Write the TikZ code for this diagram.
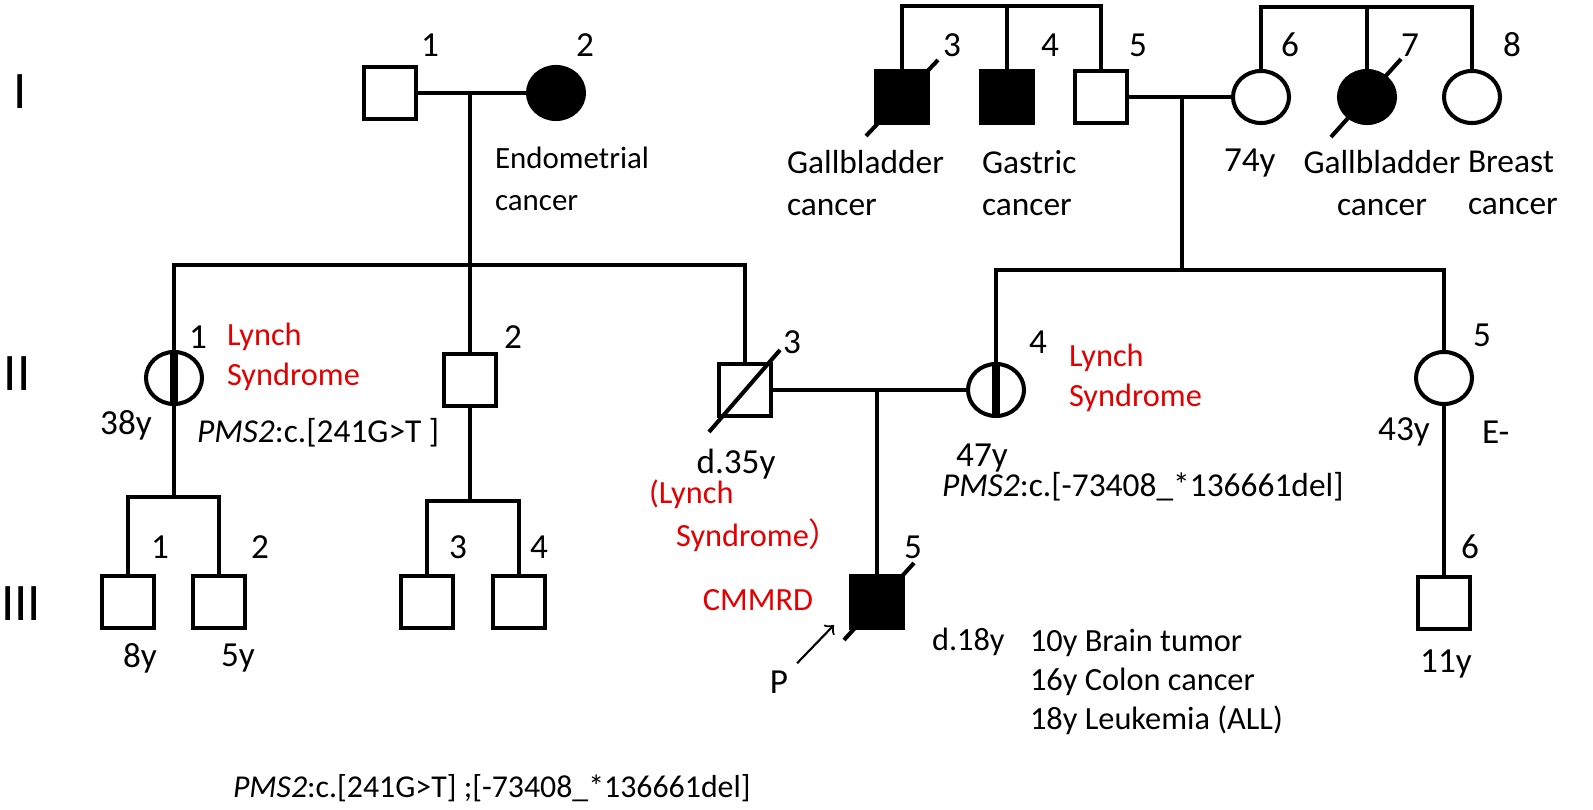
\documentclass[tikz,border=0pt]{standalone}
\usepackage{fontspec}
\setmainfont{Carlito}
\newfontfamily\cjk{Noto Sans CJK SC}
\usetikzlibrary{shapes.geometric}
\definecolor{lynchred}{RGB}{228,0,0}
\tikzset{
  male/.style={draw,rectangle,minimum size=0.52cm,inner sep=0pt},
  female/.style={draw,ellipse,minimum width=0.56cm,minimum height=0.52cm,inner sep=0pt},
  aff/.style={fill=black},
  carrier/.style={line width=2.3pt},
  num/.style={font=\fontsize{10}{12}\selectfont,inner sep=0pt},
  age/.style={font=\fontsize{10}{12}\selectfont,inner sep=0pt},
  txt/.style={font=\fontsize{9.5}{12}\selectfont,inner sep=0pt,align=left},
  note/.style={font=\fontsize{9.2}{11.2}\selectfont,inner sep=0pt,align=left},
  redtxt/.style={note,text=lynchred},
  gen/.style={font=\fontsize{15}{17}\selectfont,inner sep=0pt},
}
\begin{document}
\begin{tikzpicture}[>=to,line join=miter,line width=1.15pt,x=0.01cm,y=-0.01cm]
\useasboundingbox (0,0) rectangle (1593,810);
%% generations
\node (g_1) at (20,92) [gen] {I};
\node (g_2) at (17,374) [gen] {II};
\node (g_3) at (21,604) [gen] {III};
%% generation I
\node (i_1) at (390,93) [male] {};
\node (i_2) at (556,93) [female,aff] {};
\node (i_3) at (902,97) [male,aff] {};
\node (i_4) at (1007,97) [male,aff] {};
\node (i_5) at (1101,97) [male] {};
\node (i_6) at (1261,97) [female] {};
\node (i_7) at (1367,97) [female,aff] {};
\node (i_8) at (1472,97) [female] {};
\coordinate (s_a) at (1007,6);
\coordinate (s_b) at (1367,7);
\draw (i_3.north) |- (s_a) -| (i_5.north);
\draw (s_a) -- (i_4.north);
\draw (i_6.north) |- (s_b) -| (i_8.north);
\draw (s_b) -- (i_7.north);
\draw (i_1) -- (i_2);
\draw (i_5) -- (i_6);
\coordinate (m_a) at (470,93);
\coordinate (m_b) at (1182,97);
\draw ([shift={(-36,39)}]i_3.center) -- ([shift={(36,-37)}]i_3.center);
\draw ([shift={(-36,40)}]i_7.center) -- ([shift={(34,-38)}]i_7.center);
%
\node at (430,45) [num] {1};
\node at (585,45) [num] {2};
\node at (952,45) [num] {3};
\node at (1050,45) [num] {4};
\node at (1138,45) [num] {5};
\node at (1290,45) [num] {6};
\node at (1410,45) [num] {7};
\node at (1512,45) [num] {8};
\node at (493,179) [txt,font=\fontsize{8.8}{12}\selectfont,anchor=west] {Endometrial\\cancer};
\node at (785,183) [txt,anchor=west] {Gallbladder\\cancer};
\node at (980,183) [txt,anchor=west] {Gastric\\cancer};
\node at (1222,163) [age,anchor=west] {74y};
\node at (1382,183) [txt,align=center] {Gallbladder\\cancer};
\node at (1466,183) [txt,anchor=west] {Breast\\cancer};
%% generation II
\node (ii_1) at (174,378) [female] {};
\node (ii_2) at (470,380) [male] {};
\node (ii_3) at (745,390) [male] {};
\node (ii_4) at (996,390) [female] {};
\node (ii_5) at (1444,378) [female] {};
\coordinate (s_c) at (470,265);
\coordinate (s_d) at (1182,270);
\draw (m_a) -- (ii_2.north);
\draw (ii_1.north) |- (s_c) -| (ii_3.north);
\draw (m_b) -- (s_d);
\draw (ii_4.north) |- (s_d) -| (ii_5.north);
\draw [carrier] (ii_1.north) -- (ii_1.south);
\draw [carrier] (ii_4.north) -- (ii_4.south);
\draw ([shift={(-36,42)}]ii_3.center) -- ([shift={(35,-40)}]ii_3.center);
\draw (ii_3) -- (ii_4);
\coordinate (m_c) at (877,390);
%
\node at (198,337) [num] {1};
\node at (513,337) [num] {2};
\node at (792,342) [num] {3};
\node at (1038,342) [num] {4};
\node at (1482,335) [num] {5};
\node at (225,357) [redtxt,anchor=west] {Lynch\\Syndrome};
\node at (1067,378) [redtxt,anchor=west] {Lynch\\Syndrome};
\node at (126,425) [age] {38y};
\node at (195,433) [txt,anchor=west] {\textit{PMS2}:c.[241G>T ]};
\node at (736,464) [age] {d.35y};
\node at (647,516) [redtxt,font=\fontsize{9.2}{12.3}\selectfont,anchor=west] {(Lynch\\\hspace*{0.27cm}Syndrome{\cjk ）}};
\node at (982,458) [age] {47y};
\node at (940,487) [txt,anchor=west] {\textit{PMS2}:c.[-73408\_*136661del]};
\node at (1404,432) [age] {43y};
\node at (1480,432) [age,anchor=west] {E-};
%% generation III
\node (iii_1) at (128,602) [male] {};
\node (iii_2) at (219,602) [male] {};
\node (iii_3) at (427,602) [male] {};
\node (iii_4) at (519,602) [male] {};
\node (iii_5) at (877,602) [male,aff] {};
\node (iii_6) at (1444,603) [male] {};
\coordinate (s_e) at (174,497);
\coordinate (s_f) at (470,501);
\draw (ii_1.south) -- (s_e);
\draw (iii_1.north) |- (s_e) -| (iii_2.north);
\draw (ii_2.south) -- (s_f);
\draw (iii_3.north) |- (s_f) -| (iii_4.north);
\draw (m_c) -- (iii_5.north);
\draw (ii_5.south) -- (iii_6.north);
\draw ([shift={(-33,38)}]iii_5.center) -- ([shift={(37,-39)}]iii_5.center);
%
\node at (160,547) [num] {1};
\node at (260,547) [num] {2};
\node at (458,547) [num] {3};
\node at (539,547) [num] {4};
\node at (913,547) [num] {5};
\node at (1470,547) [num] {6};
\node at (140,658) [age] {8y};
\node at (238,658) [age] {5y};
\node at (1446,664) [age] {11y};
\node at (815,600) [redtxt,anchor=east] {CMMRD};
\node (p) at (779,682) [age,inner sep=2pt] {P};
\coordinate (p_tip) at (834,625);
\draw [->,line width=0.6pt] (p) -- (p_tip);
\node at (930,642) [note,anchor=west] {d.18y};
\node at (1028,682) [note,anchor=west] {10y Brain tumor\\16y Colon cancer\\18y Leukemia (ALL)};
\node at (231,788) [txt,font=\fontsize{9.05}{12}\selectfont,anchor=west] {\textit{PMS2}:c.[241G>T] ;[-73408\_*136661del]};
\end{tikzpicture}
\end{document}
